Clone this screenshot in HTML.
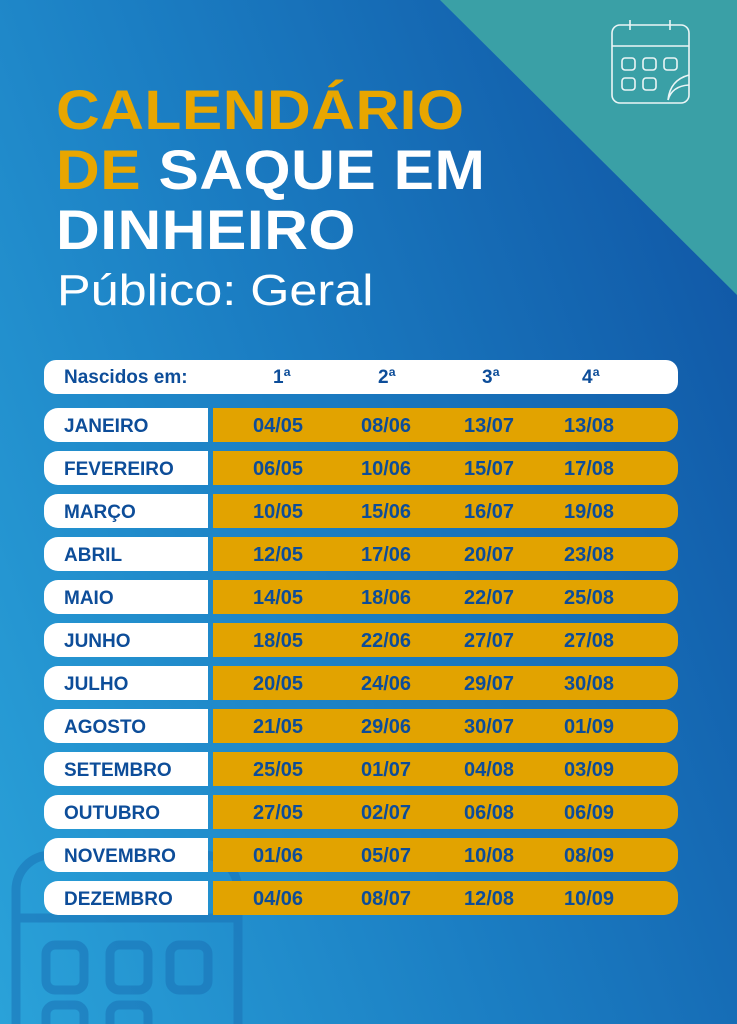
<!DOCTYPE html>
<html><head><meta charset="utf-8"><style>
*{margin:0;padding:0;box-sizing:border-box}
body{width:737px;height:1024px;overflow:hidden;position:relative;font-family:"Liberation Sans",sans-serif;
background:linear-gradient(70deg,#2aa2d9 0%,#1b7ec3 45%,#0f52a2 100%);}
.tri{position:absolute;left:0;top:0}
h1{position:absolute;left:56px;font-weight:bold;font-size:56px;line-height:60px;color:#fff;transform:scaleX(1.08);transform-origin:left top;letter-spacing:0.5px}
.y{color:#e8a600}
.sub{position:absolute;left:57px;top:266px;font-size:44px;color:#fff;transform:scaleX(1.145);transform-origin:left top}
.hdr{position:absolute;left:44px;top:360px;width:634px;height:34px;background:#fff;border-radius:12px}
.hdr span{position:absolute;top:7px;font-weight:bold;font-size:19px;color:#0d4d99}
.row{position:absolute;left:44px;width:634px;height:34px}
.m{position:absolute;left:0;top:0;width:164px;height:34px;background:#fff;border-radius:14px 0 0 14px;color:#0d4d99;font-weight:bold;font-size:19px;padding:8px 0 0 20px}
.d{position:absolute;left:169px;top:0;width:465px;height:34px;background:#e2a300;border-radius:0 14px 14px 0}
.d span{position:absolute;top:7px;font-size:20px;font-weight:bold;color:#0d4d99;width:80px;text-align:center;margin-left:-40px}
</style></head><body>
<svg class="tri" width="737" height="1024">
<g fill="none" stroke="#1a72b6" stroke-width="9" opacity="0.55">
<rect x="16" y="855" width="222" height="220" rx="35"/>
<line x1="16" y1="918" x2="238" y2="918"/>
<rect x="46" y="945" width="38" height="45" rx="9"/><rect x="110" y="945" width="38" height="45" rx="9"/><rect x="170" y="945" width="38" height="45" rx="9"/>
<rect x="46" y="1005" width="38" height="45" rx="9"/><rect x="110" y="1005" width="38" height="45" rx="9"/>
</g>
<polygon points="440,0 737,0 737,295" fill="#3aa0a6"/>
<g fill="none" stroke="#fff" stroke-width="1.6" opacity="0.9">
<rect x="612" y="25" width="77" height="78" rx="8"/>
<line x1="612" y1="46" x2="689" y2="46"/><line x1="630" y1="20" x2="630" y2="30"/><line x1="670" y1="20" x2="670" y2="30"/>
<rect x="622" y="58" width="13" height="12" rx="3"/><rect x="643" y="58" width="13" height="12" rx="3"/><rect x="664" y="58" width="13" height="12" rx="3"/>
<rect x="622" y="78" width="13" height="12" rx="3"/><rect x="643" y="78" width="13" height="12" rx="3"/>
<path d="M689 75 Q670 80 668 100 Q672 86 689 85"/>
</g>
</svg>
<h1 style="top:80px" class="y">CALENDÁRIO</h1>
<h1 style="top:140px"><span class="y">DE</span> SAQUE EM</h1>
<h1 style="top:200px">DINHEIRO</h1>
<div class="sub">Público: Geral</div>
<div class="hdr"><span style="left:20px">Nascidos em:</span><span style="left:229px">1ª</span><span style="left:334px">2ª</span><span style="left:438px">3ª</span><span style="left:538px">4ª</span></div>
<div class="row" style="top:408px"><div class="m">JANEIRO</div><div class="d"><span style="left:65px">04/05</span><span style="left:173px">08/06</span><span style="left:276px">13/07</span><span style="left:376px">13/08</span></div></div>
<div class="row" style="top:451px"><div class="m">FEVEREIRO</div><div class="d"><span style="left:65px">06/05</span><span style="left:173px">10/06</span><span style="left:276px">15/07</span><span style="left:376px">17/08</span></div></div>
<div class="row" style="top:494px"><div class="m">MARÇO</div><div class="d"><span style="left:65px">10/05</span><span style="left:173px">15/06</span><span style="left:276px">16/07</span><span style="left:376px">19/08</span></div></div>
<div class="row" style="top:537px"><div class="m">ABRIL</div><div class="d"><span style="left:65px">12/05</span><span style="left:173px">17/06</span><span style="left:276px">20/07</span><span style="left:376px">23/08</span></div></div>
<div class="row" style="top:580px"><div class="m">MAIO</div><div class="d"><span style="left:65px">14/05</span><span style="left:173px">18/06</span><span style="left:276px">22/07</span><span style="left:376px">25/08</span></div></div>
<div class="row" style="top:623px"><div class="m">JUNHO</div><div class="d"><span style="left:65px">18/05</span><span style="left:173px">22/06</span><span style="left:276px">27/07</span><span style="left:376px">27/08</span></div></div>
<div class="row" style="top:666px"><div class="m">JULHO</div><div class="d"><span style="left:65px">20/05</span><span style="left:173px">24/06</span><span style="left:276px">29/07</span><span style="left:376px">30/08</span></div></div>
<div class="row" style="top:709px"><div class="m">AGOSTO</div><div class="d"><span style="left:65px">21/05</span><span style="left:173px">29/06</span><span style="left:276px">30/07</span><span style="left:376px">01/09</span></div></div>
<div class="row" style="top:752px"><div class="m">SETEMBRO</div><div class="d"><span style="left:65px">25/05</span><span style="left:173px">01/07</span><span style="left:276px">04/08</span><span style="left:376px">03/09</span></div></div>
<div class="row" style="top:795px"><div class="m">OUTUBRO</div><div class="d"><span style="left:65px">27/05</span><span style="left:173px">02/07</span><span style="left:276px">06/08</span><span style="left:376px">06/09</span></div></div>
<div class="row" style="top:838px"><div class="m">NOVEMBRO</div><div class="d"><span style="left:65px">01/06</span><span style="left:173px">05/07</span><span style="left:276px">10/08</span><span style="left:376px">08/09</span></div></div>
<div class="row" style="top:881px"><div class="m">DEZEMBRO</div><div class="d"><span style="left:65px">04/06</span><span style="left:173px">08/07</span><span style="left:276px">12/08</span><span style="left:376px">10/09</span></div></div>
</body></html>
